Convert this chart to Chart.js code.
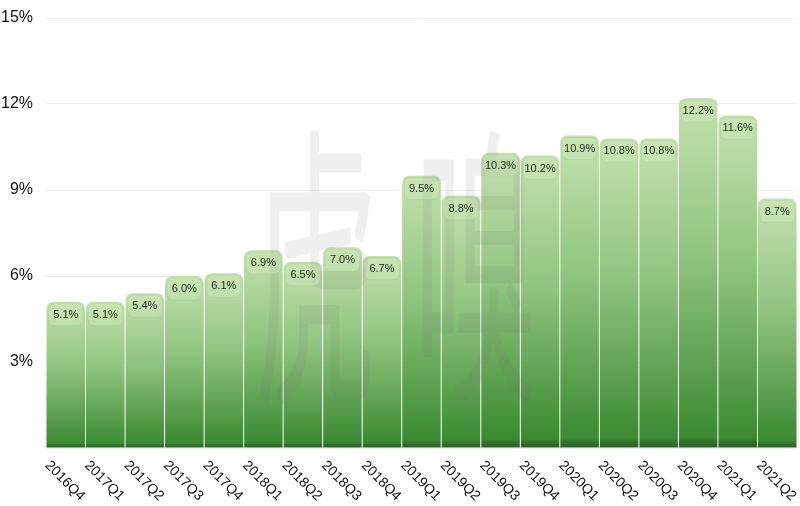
<!DOCTYPE html>
<html>
<head>
<meta charset="utf-8">
<script src="https://cdn.jsdelivr.net/npm/chart.js@4.4.1/dist/chart.umd.min.js"></script>
<style>
  html, body { margin: 0; padding: 0; background: #fff; }
  #wrap { width: 800px; height: 506px; }
</style>
</head>
<body>
<div id="wrap"><canvas id="rateChart"></canvas></div>
<script>
// quarters and rate values (%)
const quarters = ['2016Q4', '2017Q1', '2017Q2', '2017Q3', '2017Q4', '2018Q1', '2018Q2', '2018Q3', '2018Q4',
  '2019Q1', '2019Q2', '2019Q3', '2019Q4', '2020Q1', '2020Q2', '2020Q3', '2020Q4', '2021Q1', '2021Q2'];
const rates = [5.1, 5.1, 5.4, 6.0, 6.1, 6.9, 6.5, 7.0, 6.7, 9.5, 8.8, 10.3, 10.2, 10.9, 10.8, 10.8, 12.2, 11.6, 8.7];
const yTicks = [3, 6, 9, 12, 15];
const watermark = '虎嗅';

// per-bar vertical gradient, light on top, dark green at the base
function barGradient(c) {
    const chart = c.chart;
    const { ctx, chartArea, scales } = chart;
    if (!chartArea) return '#7fb86c';
    const top = scales.y.getPixelForValue(c.raw);
    const bottom = scales.y.getPixelForValue(0);
    const g = ctx.createLinearGradient(0, top, 0, bottom);
    g.addColorStop(0, '#c4e1ae');
    g.addColorStop(0.45, '#90c47f');
    g.addColorStop(0.97, '#3b8a32');
    g.addColorStop(0.985, '#2f6f2a');
    g.addColorStop(1, '#2a5f26');
    return g;
}

// value caps + rotated quarter labels
const labelPlugin = {
    id: 'labels',
    afterDatasetsDraw(chart) {
        const { ctx, scales } = chart;
        const meta = chart.getDatasetMeta(0);

        // faint watermark
        ctx.save();
        ctx.fillStyle = 'rgba(110,110,110,0.11)';
        ctx.font = '130px "Noto Sans CJK SC"';
        ctx.textAlign = 'center';
        ctx.textBaseline = 'middle';
        [...watermark].forEach((ch, i) => {
            ctx.save();
            ctx.translate(316 + i * 160, 268);
            ctx.scale(0.95, 2.3);
            ctx.fillText(ch, 0, 0);
            ctx.restore();
        });
        ctx.restore();

        meta.data.forEach((bar, i) => {
            const w = bar.width;
            const x0 = bar.x - w / 2 + 2;
            const y0 = bar.y + 2;
            ctx.save();
            ctx.beginPath();
            ctx.roundRect(x0, y0, w - 4, 22, 6);
            ctx.fillStyle = 'rgba(215,238,200,0.3)';
            ctx.fill();
            ctx.strokeStyle = 'rgba(140,185,120,0.2)';
            ctx.lineWidth = 1;
            ctx.stroke();
            ctx.fillStyle = '#1d2a1a';
            ctx.font = '11px "Liberation Sans", Arial, sans-serif';
            ctx.textAlign = 'center';
            ctx.textBaseline = 'middle';
            ctx.fillText(rates[i].toFixed(1) + '%', bar.x, bar.y + 13);
            ctx.restore();
        });

        const base = scales.y.getPixelForValue(0);
        quarters.forEach((q, i) => {
            const x = scales.x.getPixelForValue(i);
            ctx.save();
            ctx.translate(x - 1, base + 33);
            ctx.rotate(Math.PI / 4);
            ctx.fillStyle = '#111';
            ctx.font = '14px "Liberation Sans", Arial, sans-serif';
            ctx.textAlign = 'center';
            ctx.textBaseline = 'middle';
            ctx.fillText(q, 0, 0);
            ctx.restore();
        });
    }
};

const chart = new Chart(document.getElementById('rateChart'), {
    type: 'bar',
    data: {
        labels: quarters,
        datasets: [{
            data: rates,
            backgroundColor: barGradient,
            borderWidth: 0,
            borderRadius: { topLeft: 7, topRight: 7 },
            borderSkipped: 'bottom',
            barPercentage: 1,
            categoryPercentage: 0.975
        }]
    },
    options: {
        responsive: true,
        maintainAspectRatio: false,
        animation: false,
        layout: { padding: { top: 18, right: 3, bottom: 58, left: 0 } },
        plugins: {
            legend: { display: false },
            tooltip: { enabled: false }
        },
        scales: {
            x: { display: false },
            y: {
                min: 0,
                max: 15,
                afterFit(scale) {
                    scale.width = 46;
                    scale.paddingTop = 0;
                    scale.paddingBottom = 0;
                },
                afterBuildTicks(scale) {
                    scale.ticks = [0].concat(yTicks).map(v => ({ value: v }));
                },
                border: { display: false },
                grid: { color: '#eeeeee', drawTicks: false },
                ticks: {
                    padding: 13,
                    color: '#111',
                    font: { family: '"Liberation Sans", Arial, sans-serif', size: 16 },
                    callback: v => v === 0 ? '' : v + '%'
                }
            }
        }
    },
    plugins: [labelPlugin]
});
</script>
</body>
</html>
